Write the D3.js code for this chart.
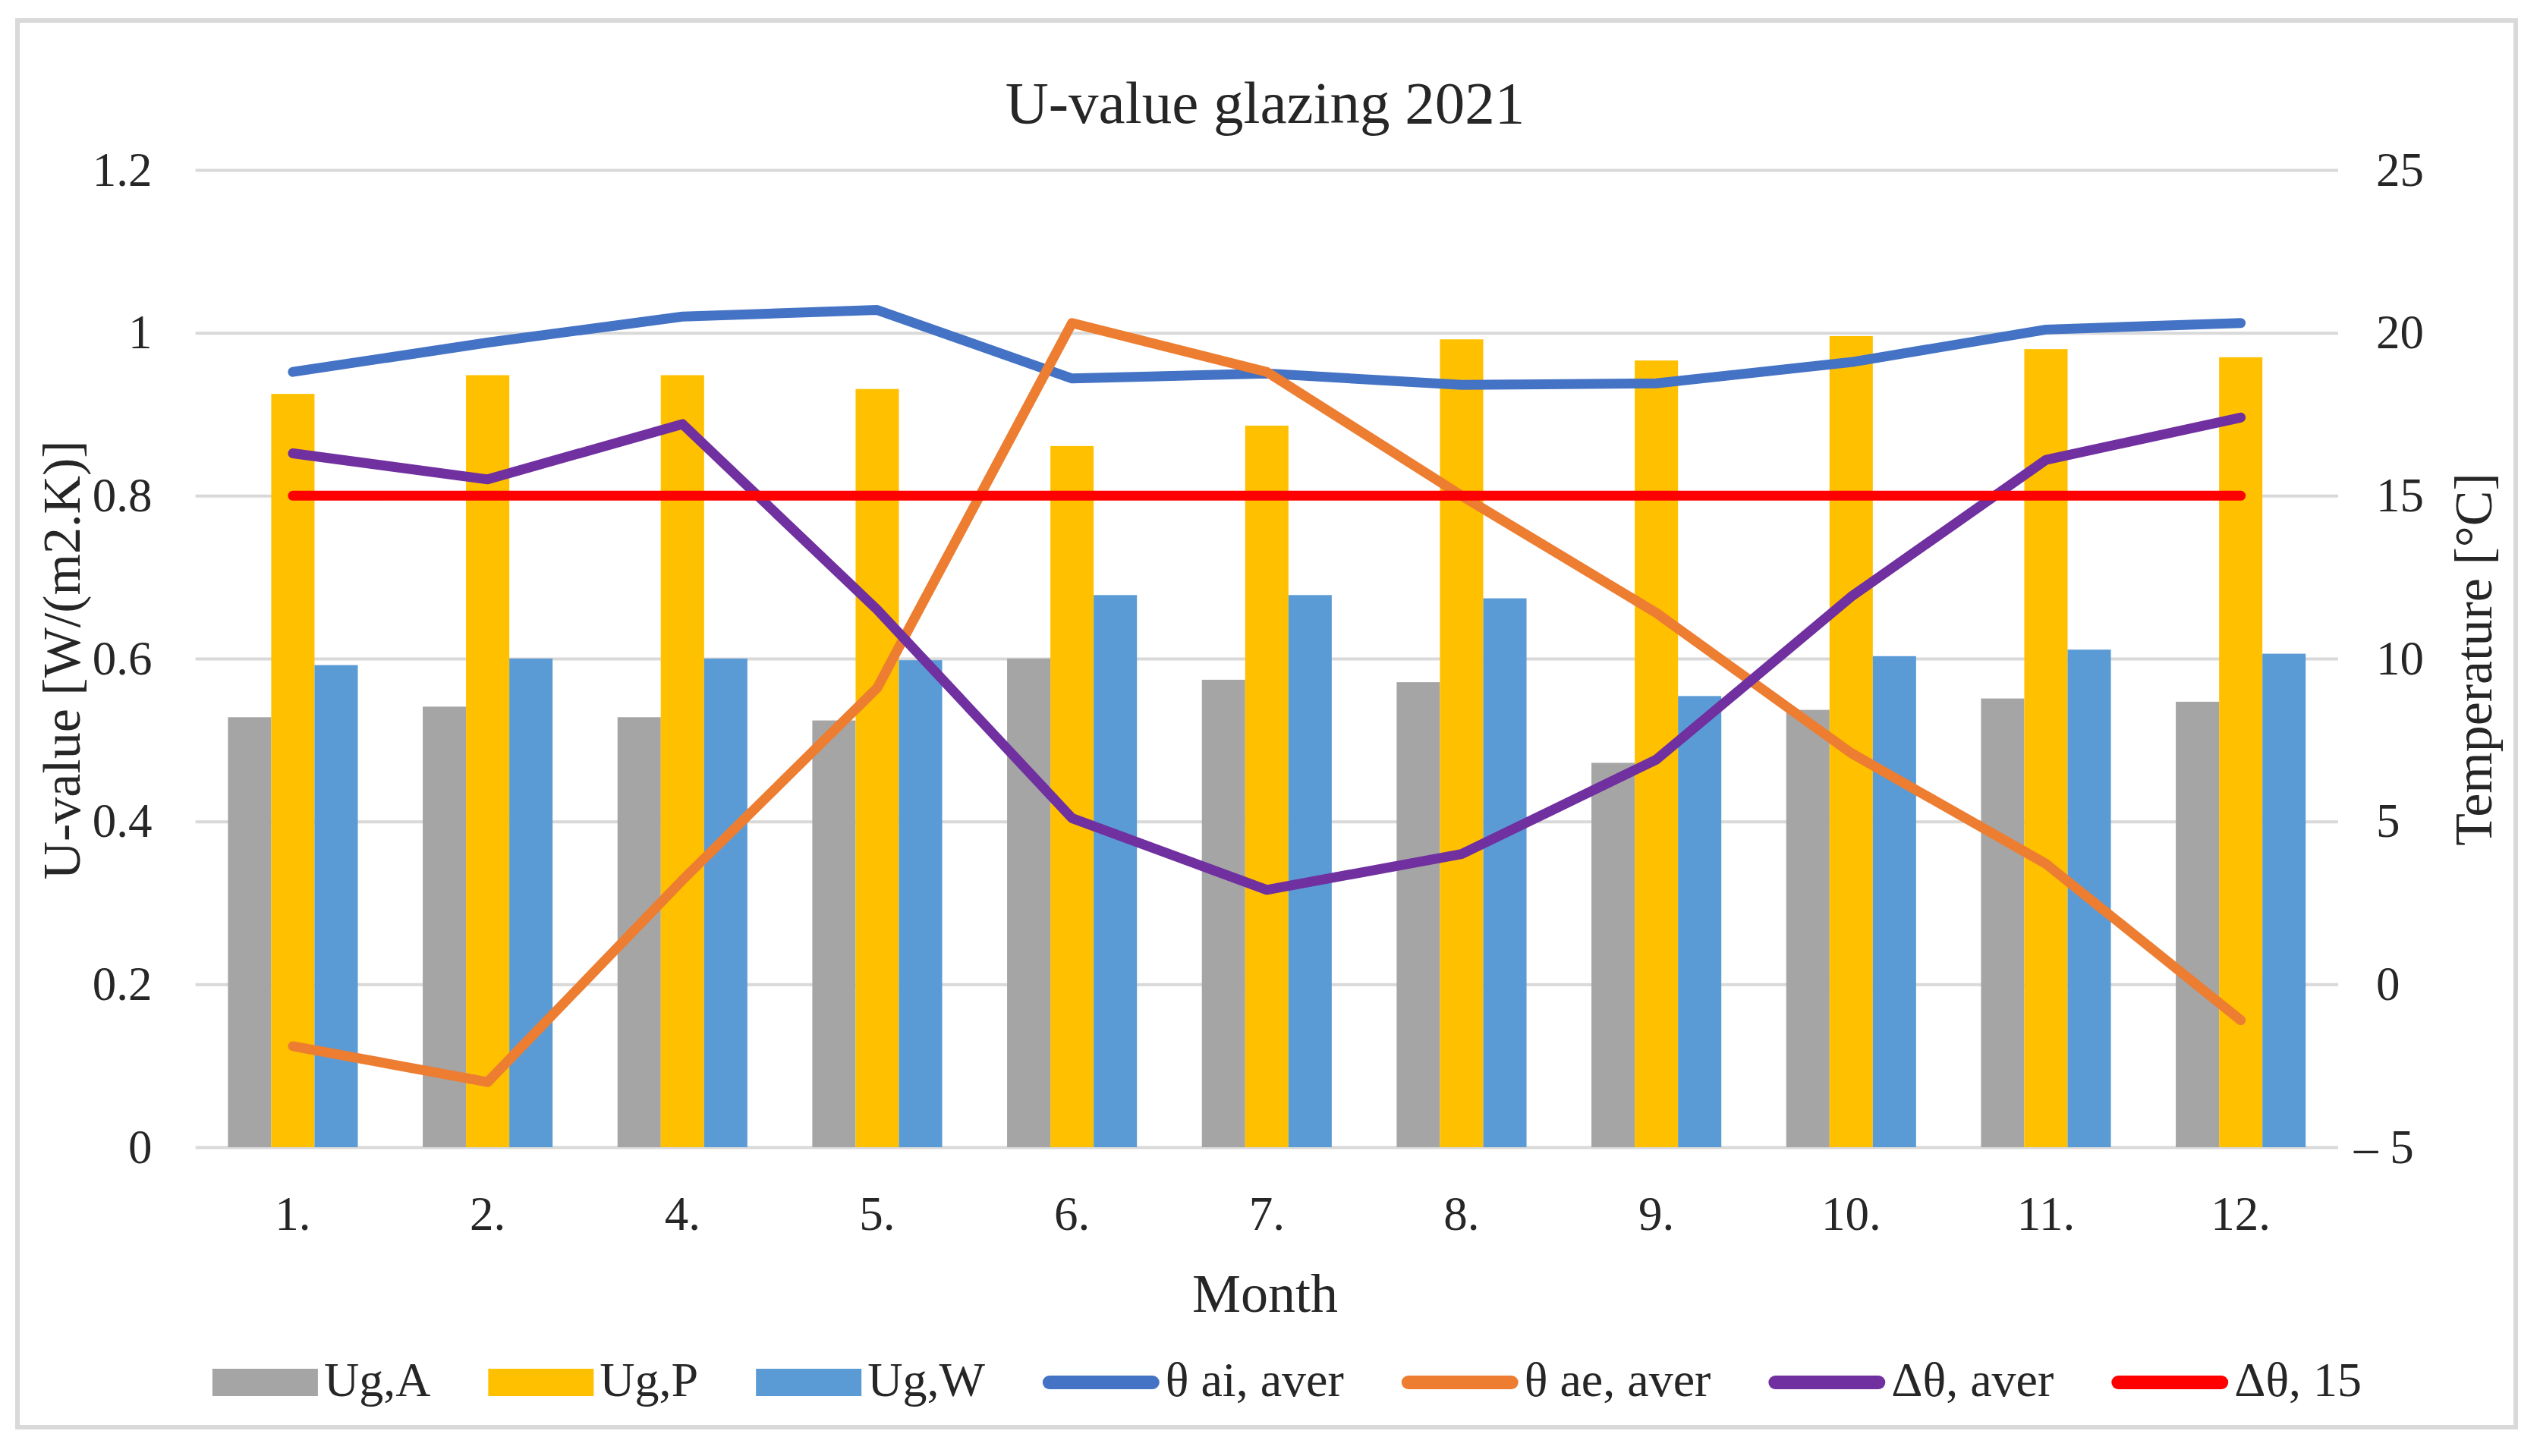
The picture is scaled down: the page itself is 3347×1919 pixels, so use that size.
<!DOCTYPE html>
<html>
<head>
<meta charset="utf-8">
<script src="https://cdn.jsdelivr.net/npm/d3@7"></script>
<style>
  body { margin: 0; background: #fff; }
  text { font-family: "Palatino Linotype", "Book Antiqua", "Liberation Serif", serif; }
</style>
</head>
<body>
<div id="chart"></div>
<script>
// data
const months = ["1.", "2.", "4.", "5.", "6.", "7.", "8.", "9.", "10.", "11.", "12."];
const ugA = [0.528, 0.541, 0.528, 0.524, 0.600, 0.574, 0.571, 0.472, 0.537, 0.551, 0.547];
const ugP = [0.925, 0.948, 0.948, 0.931, 0.861, 0.886, 0.992, 0.966, 0.996, 0.980, 0.970];
const ugW = [0.592, 0.600, 0.600, 0.598, 0.678, 0.678, 0.674, 0.554, 0.603, 0.611, 0.606];
const thetaAi = [18.8, 19.7, 20.5, 20.7, 18.6, 18.75, 18.4, 18.45, 19.1, 20.1, 20.3];
const thetaAe = [-1.9, -3.0, 3.2, 9.1, 20.3, 18.8, 15.0, 11.4, 7.1, 3.7, -1.1];
const deltaTheta = [16.3, 15.5, 17.2, 11.5, 5.1, 2.9, 4.0, 6.9, 11.9, 16.1, 17.4];
const deltaTheta15 = [15, 15, 15, 15, 15, 15, 15, 15, 15, 15, 15];
const leftTicks = [0, 0.2, 0.4, 0.6, 0.8, 1, 1.2];
const rightTicks = [-5, 0, 5, 10, 15, 20, 25];

const barSeries = [
  {name: "Ug,A", values: ugA, color: "#a5a5a5"},
  {name: "Ug,P", values: ugP, color: "#ffc000"},
  {name: "Ug,W", values: ugW, color: "#5b9bd5"}
];
const lineSeries = [
  {name: "θ ai, aver", values: thetaAi, color: "#4472c4"},
  {name: "θ ae, aver", values: thetaAe, color: "#ed7d31"},
  {name: "Δθ, aver", values: deltaTheta, color: "#7030a0"},
  {name: "Δθ, 15", values: deltaTheta15, color: "#ff0000"}
];

const width = 3347;
const height = 1919;
const plot = {left: 257.6, right: 3081, top: 224, bottom: 1512};
const textColor = "#262626";
const gridColor = "#d9d9d9";

const svg = d3.select("#chart")
  .append("svg")
    .attr("width", width)
    .attr("height", height);

svg.append("rect")
    .attr("x", 23)
    .attr("y", 27)
    .attr("width", 3292)
    .attr("height", 1854)
    .attr("fill", "#fff")
    .attr("stroke", gridColor)
    .attr("stroke-width", 6);

const xScale = d3.scaleBand()
  .domain(months)
  .range([plot.left, plot.right])
  .paddingInner(1 / 3)
  .paddingOuter(1 / 6);

const xInner = d3.scaleBand()
  .domain(barSeries.map(s => s.name))
  .range([0, xScale.bandwidth()]);

const yLeft = d3.scaleLinear()
  .domain([0, 1.2])
  .range([plot.bottom, plot.top]);

const yRight = d3.scaleLinear()
  .domain([-5, 25])
  .range([plot.bottom, plot.top]);

// gridlines + left axis
const leftAxis = d3.axisLeft(yLeft)
  .tickValues(leftTicks)
  .tickSize(-(plot.right - plot.left))
  .tickPadding(57)
  .tickFormat(d => d3.format("~g")(d));

const gLeft = svg.append("g")
    .attr("transform", `translate(${plot.left}, 0)`)
    .call(leftAxis);
gLeft.select(".domain").remove();
gLeft.selectAll(".tick line")
    .attr("stroke", gridColor)
    .attr("stroke-width", 4);
gLeft.selectAll(".tick text")
    .attr("fill", textColor)
    .style("font-size", "63px");

// right axis (labels only)
const rightAxis = d3.axisRight(yRight)
  .tickValues(rightTicks)
  .tickSize(0)
  .tickPadding(50)
  .tickFormat(d => d < 0 ? "– " + Math.abs(d) : d);

const gRight = svg.append("g")
    .attr("transform", `translate(${plot.right}, 0)`)
    .call(rightAxis);
gRight.select(".domain").remove();
gRight.selectAll(".tick text")
    .attr("fill", textColor)
    .style("font-size", "63px")
    .filter(d => d < 0)
    .attr("x", 21);

// bottom axis (labels only)
const bottomAxis = d3.axisBottom(xScale).tickSize(0);
const gBottom = svg.append("g")
    .attr("transform", `translate(0, ${plot.bottom})`)
    .call(bottomAxis);
gBottom.select(".domain").remove();
gBottom.selectAll(".tick text")
    .attr("y", 109)
    .attr("dy", 0)
    .attr("fill", textColor)
    .style("font-size", "63px");

// bars
svg.append("g")
  .selectAll("g")
  .data(barSeries)
  .join("g")
    .attr("fill", s => s.color)
  .selectAll("rect")
  .data(s => s.values.map((v, i) => ({name: s.name, month: months[i], value: v})))
  .join("rect")
    .attr("x", d => xScale(d.month) + xInner(d.name))
    .attr("y", d => yLeft(d.value))
    .attr("width", xInner.bandwidth())
    .attr("height", d => yLeft(0) - yLeft(d.value));

// lines on the temperature axis
const lineGenerator = d3.line()
  .x((d, i) => xScale(months[i]) + xScale.bandwidth() / 2)
  .y(d => yRight(d));

svg.append("g")
  .selectAll("path")
  .data(lineSeries)
  .join("path")
    .attr("d", s => lineGenerator(s.values))
    .attr("fill", "none")
    .attr("stroke", s => s.color)
    .attr("stroke-width", 13)
    .attr("stroke-linecap", "round")
    .attr("stroke-linejoin", "round");

// titles
svg.append("text")
    .text("U-value glazing 2021")
    .attr("x", 1667)
    .attr("y", 162)
    .attr("text-anchor", "middle")
    .attr("fill", textColor)
    .style("font-size", "79px");

svg.append("text")
    .text("U-value [W/(m2.K)]")
    .attr("transform", "translate(105, 870) rotate(-90)")
    .attr("text-anchor", "middle")
    .attr("fill", textColor)
    .style("font-size", "70px");

svg.append("text")
    .text("Temperature [°C]")
    .attr("transform", "translate(3283, 869) rotate(-90)")
    .attr("text-anchor", "middle")
    .attr("fill", textColor)
    .style("font-size", "70px");

svg.append("text")
    .text("Month")
    .attr("x", 1667)
    .attr("y", 1729)
    .attr("text-anchor", "middle")
    .attr("fill", textColor)
    .style("font-size", "72px");

// legend
const legendItems = barSeries.map(s => ({...s, kind: "bar"}))
  .concat(lineSeries.map(s => ({...s, kind: "line"})));

const legend = svg.append("g");
const legendY = 1822;
const legendGap = 76;
let cursor = 0;
legendItems.forEach(item => {
  const g = legend.append("g");
  const swatchW = item.kind === "bar" ? 139 : 154;
  if (item.kind === "bar") {
    g.append("rect")
        .attr("x", cursor)
        .attr("y", legendY - 18)
        .attr("width", swatchW)
        .attr("height", 36)
        .attr("fill", item.color);
  } else {
    g.append("line")
        .attr("x1", cursor + 9)
        .attr("x2", cursor + swatchW - 9)
        .attr("y1", legendY)
        .attr("y2", legendY)
        .attr("stroke", item.color)
        .attr("stroke-width", 18)
        .attr("stroke-linecap", "round");
  }
  const label = g.append("text")
      .text(item.name)
      .attr("x", cursor + swatchW + 8)
      .attr("y", legendY + 18)
      .attr("fill", textColor)
      .style("font-size", "64px");
  cursor += swatchW + 8 + label.node().getComputedTextLength() + legendGap;
});
const legendWidth = cursor - legendGap;
legend.attr("transform", `translate(${1696 - legendWidth / 2}, 0)`);
</script>
</body>
</html>
